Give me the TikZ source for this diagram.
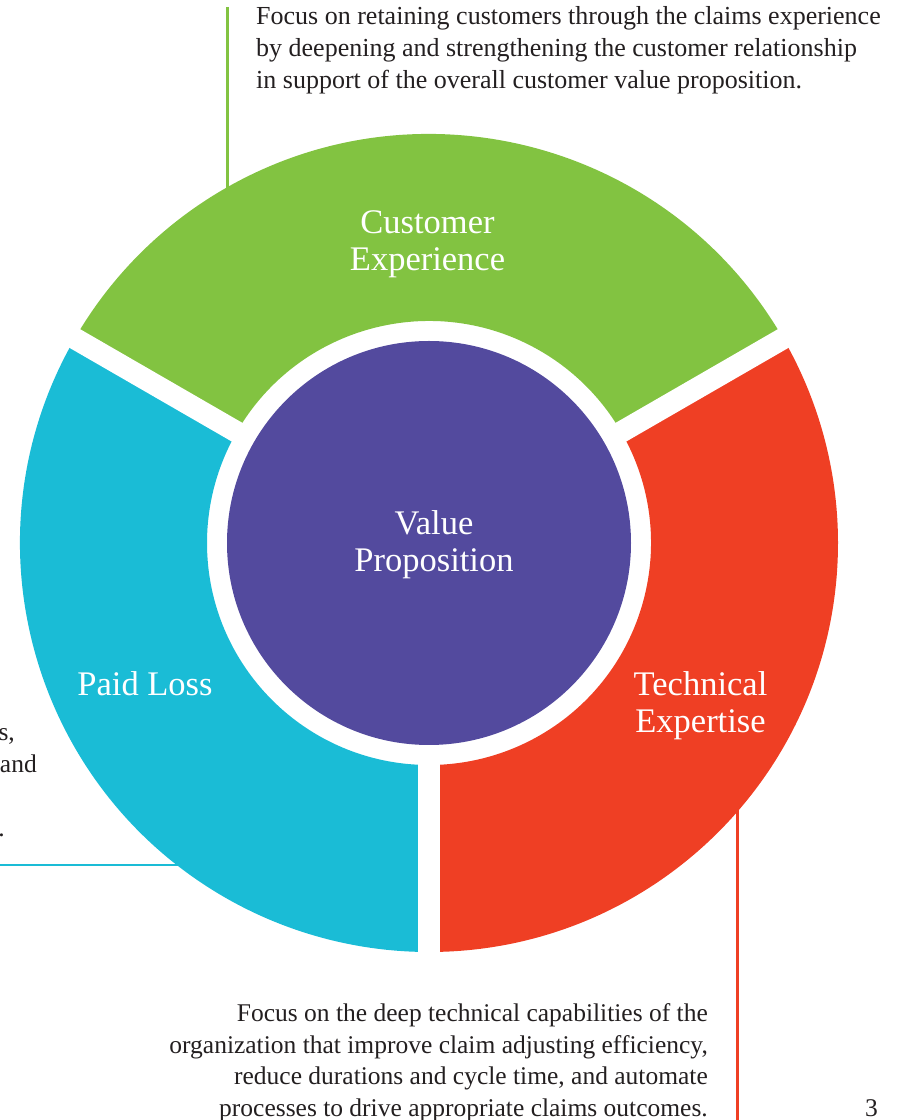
\documentclass[tikz,border=0pt]{standalone}
\usepackage{fontspec}
\setmainfont{Liberation Serif}
\usetikzlibrary{calc}
\definecolor{cgreen}{HTML}{82C341}
\definecolor{ccyan}{HTML}{1ABCD6}
\definecolor{cred}{HTML}{EF3F24}
\definecolor{cpurple}{HTML}{534A9E}
\definecolor{ink}{HTML}{231F20}
\begin{document}
\begin{tikzpicture}[x=1pt,y=1pt,
  body/.style={inner sep=0pt, text=ink, font=\fontsize{25.5}{31.7}\selectfont},
  bodywide/.style={body, font=\fontsize{26}{31.7}\selectfont},
  seglabel/.style={inner sep=0pt, text=white, align=center, font=\fontsize{34.5}{36.5}\selectfont},
  callout/.style={line width=2.4pt},
  gapband/.style={white, line width=21.5pt}]
\useasboundingbox (0,0) rectangle (899,1120);
\coordinate (C) at (429,577);
% callout lines (drawn first, the ring covers their inner ends)
\coordinate (gtop) at (227.3,1113);
\coordinate (gring) at (227.3,925);
\coordinate (cleft) at (0,255);
\coordinate (cring) at (185,255);
\coordinate (rbot) at (737.3,0);
\coordinate (rring) at (737.3,315);
\draw[callout,cgreen] (gtop) -- (gring);
\draw[callout,ccyan] (cleft) -- (cring);
\draw[callout,cred] (rbot) -- (rring);
% ring segments
\fill[cgreen] ($(C)+(30:409)$) arc[start angle=30,end angle=150,radius=409]
  -- ($(C)+(150:222)$) arc[start angle=150,end angle=30,radius=222] -- cycle;
\fill[ccyan] ($(C)+(150:409)$) arc[start angle=150,end angle=270,radius=409]
  -- ($(C)+(270:222)$) arc[start angle=270,end angle=150,radius=222] -- cycle;
\fill[cred] ($(C)+(-90:409)$) arc[start angle=-90,end angle=30,radius=409]
  -- ($(C)+(30:222)$) arc[start angle=30,end angle=-90,radius=222] -- cycle;
% gaps
\draw[gapband] (C) -- ++(30:415);
\draw[gapband] (C) -- ++(150:415);
\draw[gapband] (C) -- ++(270:415);
% centre
\node[circle, fill=cpurple, minimum size=404pt, inner sep=0pt] (vp) at (C) {};
% labels (base anchor = baseline of the last line)
\node[seglabel, anchor=base] (lce) at (427.5,849.5) {Customer\\Experience};
\node[seglabel, anchor=base] (lvp) at (434,548.5) {Value\\Proposition};
\node[seglabel, anchor=base] (lpl) at (145,424) {Paid Loss};
\node[seglabel, anchor=base] (lte) at (700.5,387.5) {Technical\\Expertise};
% texts
\node[bodywide, align=left, anchor=base west] (tce) at (256,1031.7) {Focus on retaining customers through the claims experience\\by deepening and strengthening the customer relationship\\in support of the overall customer value proposition.};
\node[body, align=right, anchor=base east] (tte) at (708,3.5) {Focus on the deep technical capabilities of the\\organization that improve claim adjusting efficiency,\\reduce durations and cycle time, and automate\\processes to drive appropriate claims outcomes.};
\node[body, anchor=base east] (tpl1) at (15,379) {s,};
\node[body, anchor=base east] (tpl2) at (37,347) {and};
\node[body, anchor=base east] (tpl3) at (5,283) {.};
\node[body, anchor=base east] (pg) at (878,4) {3};
\end{tikzpicture}
\end{document}
